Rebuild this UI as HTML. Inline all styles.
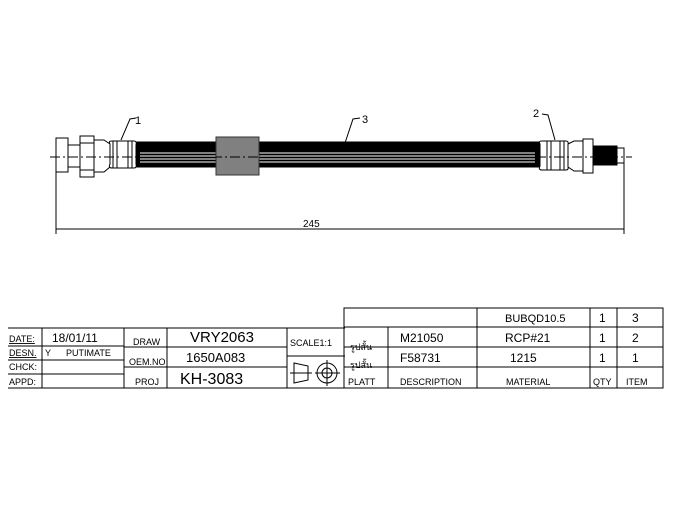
<!DOCTYPE html>
<html><head><style>
body{margin:0;background:#fff;width:676px;height:507px;overflow:hidden}
svg{display:block}
text{font-family:"Liberation Sans",sans-serif;fill:#000}
</style></head><body>
<svg width="676" height="507" viewBox="0 0 676 507" xmlns="http://www.w3.org/2000/svg">
<g stroke="#000" stroke-width="1" fill="#fff">
<!-- hose -->
<rect x="135" y="142" width="406" height="25" fill="#000"/>
<g stroke="#fff" stroke-width="1">
<line x1="140" y1="153" x2="535" y2="153"/><line x1="140" y1="156" x2="535" y2="156"/>
<line x1="140" y1="159" x2="535" y2="159"/><line x1="140" y1="162" x2="535" y2="162"/>
</g>
<rect x="216" y="137" width="43" height="38" fill="#808080" stroke="#333"/>
<!-- left fitting -->
<rect x="56" y="138" width="12" height="34"/>
<rect x="68" y="145" width="12" height="22"/>
<rect x="80" y="136" width="14" height="41"/>
<line x1="80" y1="143" x2="94" y2="143"/><line x1="80" y1="170" x2="94" y2="170"/>
<path d="M94 140 L104 140 L110 144 L110 167 L104 172 L94 172 Z"/>
<path d="M110 144 Q108 141 112 141 L134 141 Q137 141 136 145 L136 164 Q137 168 134 168 L112 168 Q108 168 110 164 Z"/>
<line x1="113" y1="141" x2="113" y2="168"/><line x1="117" y1="141" x2="117" y2="168"/>
<line x1="128" y1="141" x2="128" y2="168"/><line x1="132" y1="141" x2="132" y2="168"/>
<!-- right fitting -->
<path d="M540 144 Q538 141 542 141 L566 141 Q569 141 568 145 L568 166 Q569 170 566 170 L542 170 Q538 170 540 166 Z"/>
<line x1="547" y1="141" x2="547" y2="170"/><line x1="551" y1="141" x2="551" y2="170"/>
<line x1="560" y1="141" x2="560" y2="170"/><line x1="564" y1="141" x2="564" y2="170"/>
<path d="M568 144 L574 141 L583 141 L583 171 L574 171 L568 167 Z"/>
<rect x="583" y="139" width="10" height="34"/>
<rect x="593" y="146" width="24" height="19" fill="#000"/>
<rect x="617" y="148" width="7" height="15"/>
</g>
<!-- centerline -->
<line x1="50" y1="157" x2="632" y2="157" stroke="#000" stroke-width="1" stroke-dasharray="10,3,2,3"/>
<!-- dimension -->
<g stroke="#000" stroke-width="1" fill="none">
<line x1="56" y1="172" x2="56" y2="234"/><line x1="624" y1="163" x2="624" y2="234"/>
<line x1="56" y1="229" x2="624" y2="229"/>
<!-- leaders -->
<polyline points="121,140 130,119 136,118"/>
<polyline points="345,143 353,119 360,118"/>
<polyline points="555,140 548,115 542,114"/>
</g>
<text x="303" y="227" font-size="10">245</text>
<text x="135" y="124" font-size="11">1</text>
<text x="362" y="123" font-size="11">3</text>
<text x="533" y="117" font-size="11">2</text>
<!-- left table -->
<g stroke="#000" stroke-width="1" fill="none">
<line x1="8" y1="328" x2="345" y2="328"/>
<line x1="8" y1="346" x2="124" y2="346"/>
<line x1="8" y1="360" x2="124" y2="360"/>
<line x1="8" y1="374" x2="124" y2="374"/>
<line x1="8" y1="388" x2="345" y2="388"/>
<line x1="124" y1="347" x2="287" y2="347"/>
<line x1="124" y1="367" x2="287" y2="367"/>
<line x1="287" y1="356" x2="345" y2="356"/>
<line x1="42" y1="328" x2="42" y2="388"/>
<line x1="124" y1="328" x2="124" y2="388"/>
<line x1="167" y1="328" x2="167" y2="388"/>
<line x1="287" y1="328" x2="287" y2="388"/>
<!-- right table -->
<rect x="344" y="308" width="319" height="80"/>
<line x1="344" y1="327" x2="663" y2="327"/>
<line x1="344" y1="347" x2="663" y2="347"/>
<line x1="344" y1="367" x2="663" y2="367"/>
<line x1="388" y1="327" x2="388" y2="388"/>
<line x1="477" y1="308" x2="477" y2="388"/>
<line x1="590" y1="308" x2="590" y2="388"/>
<line x1="617" y1="308" x2="617" y2="388"/>
<!-- projection symbol -->
<path d="M294 363 L308 366 L308 380 L294 383 Z"/>
<line x1="290" y1="373" x2="312" y2="373"/>
<circle cx="327" cy="373" r="10"/><circle cx="327" cy="373" r="5"/>
<line x1="315" y1="373" x2="340" y2="373"/><line x1="327" y1="360" x2="327" y2="386"/>
</g>
<g font-size="9">
<text x="9" y="342" text-decoration="underline">DATE:</text>
<text x="9" y="356" text-decoration="underline">DESN.</text>
<text x="9" y="370">CHCK:</text>
<text x="9" y="385">APPD:</text>
<text x="52" y="342" font-size="12">18/01/11</text>
<text x="45" y="356">Y</text>
<text x="66" y="356">PUTIMATE</text>
<text x="133" y="345">DRAW</text>
<text x="129" y="365">OEM.NO</text>
<text x="135" y="385">PROJ</text>
<text x="190" y="342" font-size="15" font-family="Liberation Serif">VRY2063</text>
<text x="186" y="362" font-size="13" font-family="Liberation Serif">1650A083</text>
<text x="180" y="384" font-size="16">KH-3083</text>
<text x="290" y="346">SCALE1:1</text>
<text x="348" y="385">PLATT</text>
<text x="400" y="385">DESCRIPTION</text>
<text x="506" y="385">MATERIAL</text>
<text x="593" y="385">QTY</text>
<text x="626" y="385">ITEM</text>
<text x="505" y="322" font-size="11" fill="#666">BUBQD10.5</text>
<text x="599" y="322" font-size="12">1</text>
<text x="632" y="322" font-size="12">3</text>
<text x="400" y="342" font-size="12">M21050</text>
<text x="505" y="342" font-size="12">RCP#21</text>
<text x="599" y="342" font-size="12">1</text>
<text x="632" y="342" font-size="12">2</text>
<text x="400" y="362" font-size="12">F58731</text>
<text x="510" y="362" font-size="12">1215</text>
<text x="599" y="362" font-size="12">1</text>
<text x="632" y="362" font-size="12">1</text>
<text x="350" y="350" font-size="9">รูปสั้น</text>
<text x="350" y="368" font-size="9">รูปสั้น</text>
</g>
</svg>
</body></html>
